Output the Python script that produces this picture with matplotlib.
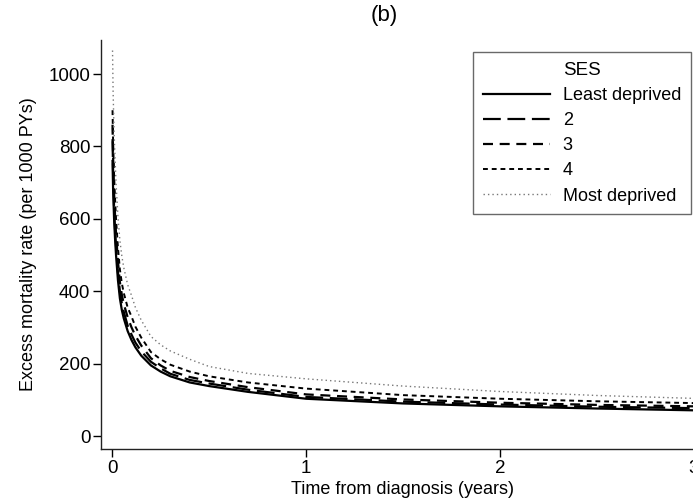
import matplotlib
matplotlib.use("Agg")
import matplotlib.pyplot as plt

plt.rcParams['font.family'] = ['Liberation Sans', 'DejaVu Sans']

# temps depuis le diagnostic (annees)
temps = [0.002, 0.005, 0.01, 0.015, 0.02, 0.03, 0.04, 0.05, 0.06, 0.08, 0.1, 0.12,
         0.15, 0.2, 0.25, 0.3, 0.4, 0.5, 0.7, 1.0, 1.5, 2.0, 2.5, 3.0]

# taux de mortalite en exces (pour 1000 PA)
least = [760, 680, 600, 545, 500, 430, 380, 348, 325, 290, 265, 245,
         222, 195, 178, 165, 148, 138, 122, 103, 90, 82, 76, 71]
ses2 = [820, 730, 630, 570, 525, 452, 400, 366, 343, 305, 280, 258,
        234, 205, 187, 172, 155, 145, 128, 108, 95, 87, 81, 77]
ses3 = [860, 770, 670, 610, 560, 482, 425, 390, 365, 328, 300, 277,
        250, 215, 195, 180, 163, 152, 135, 115, 101, 92, 86, 82]
ses4 = [900, 810, 720, 655, 600, 520, 460, 422, 395, 355, 330, 302,
        272, 232, 212, 197, 178, 165, 148, 131, 113, 103, 96, 91]
most = [1065, 950, 840, 765, 700, 605, 540, 497, 465, 418, 388, 355,
        320, 275, 252, 235, 212, 192, 173, 158, 138, 123, 112, 104]

labels = ["Least deprived", "2", "3", "4", "Most deprived"]
series = [least, ses2, ses3, ses4, most]
styles = [
    dict(color='black', lw=1.6, ls='-'),
    dict(color='black', lw=1.6, ls=(0, (8, 3))),
    dict(color='black', lw=1.6, ls=(0, (4.5, 3))),
    dict(color='black', lw=1.4, ls=(0, (2.5, 2))),
    dict(color='#777777', lw=1.0, ls=(0, (1, 2.2))),
]

W, H = 693, 503
fig = plt.figure(figsize=(W / 100, H / 100), dpi=100)
# axes qui depasse a droite (coupe comme sur l'original)
ax = fig.add_axes([100.7 / W, 1 - 448.7 / H, 603 / W, (448.7 - 40) / H])

for y, lab, st in zip(series, labels, styles):
    ax.plot(temps, y, label=lab, **st)

ax.set_xlim(-0.059, 3.05)
ax.set_ylim(-35, 1094)
ax.set_xticks([0, 1, 2, 3])
ax.set_yticks([0, 200, 400, 600, 800, 1000])
ax.tick_params(direction='out', length=6, width=1, labelsize=13.5, colors='black')
ax.tick_params(axis='x', pad=2)
ax.tick_params(axis='y', pad=1.5)
ax.spines['top'].set_visible(False)
ax.spines['right'].set_visible(False)
for s in ['left', 'bottom']:
    ax.spines[s].set_linewidth(1)
    ax.spines[s].set_color('#222222')

ax.set_xlabel("Time from diagnosis (years)", fontsize=13, labelpad=3)
ax.set_ylabel("Excess mortality rate (per 1000 PYs)", fontsize=13, labelpad=8)
fig.text(384 / W, 1 - 15 / H, "(b)", ha='center', va='center', fontsize=16)

leg = ax.legend(title="SES", loc='upper right',
                bbox_to_anchor=(691 / W, 1 - 52 / H), bbox_transform=fig.transFigure,
                fontsize=13, title_fontsize=13.5, frameon=True, fancybox=False,
                handlelength=3.7, handletextpad=0.7, labelspacing=0.45,
                borderpad=0.55, borderaxespad=0)
leg.get_frame().set_edgecolor('#444444')
leg.get_frame().set_linewidth(1)

fig.savefig("out.png", dpi=100)
